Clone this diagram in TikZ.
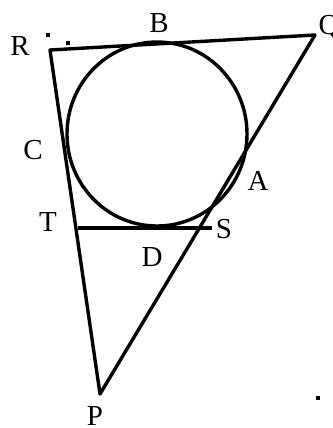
\documentclass[tikz,border=0pt]{standalone}
\usepackage{fontspec}
\setmainfont{Liberation Serif}
\usetikzlibrary{positioning}

\begin{document}
\begin{tikzpicture}[
x=1pt,
y=-1pt,
edge/.style={
line width=3.4pt,
line join=round
},
lbl/.style={font=\fontsize{29}{29}\selectfont, inner sep=0pt},
speck/.style={rectangle, fill=black, minimum size=3.5pt, inner sep=0pt}
]
\useasboundingbox (0,0) rectangle (332,428);

\coordinate (R) at (50,50);
\coordinate (Q) at (315,35);
\coordinate (P) at (100,394);
\coordinate (O) at (157,134);
\coordinate (T) at (78,228);
\coordinate (S) at (212,228);

\node[lbl] (labR) at (20,46) {R};
\node[lbl] (labB) at (159,23) {B};
\node[lbl] (labQ) at (329,27) {Q};
\node[lbl] (labC) at (33,150) {C};
\node[lbl] (labA) at (258,181) {A};
\node[lbl] (labT) at (48,222) {T};
\node[lbl] (labS) at (224,229) {S};
\node[lbl] (labD) at (152,257) {D};
\node[lbl] (labP) at (95,416) {P};

\node[speck] (dot1) at (48,35) {};
\node[speck] (dot2) at (68,43) {};
\node[speck] (dot3) at (318,398) {};

\draw[edge] (R) -- (Q) -- (P) -- cycle;
\draw[edge] (O) ellipse[x radius=90, y radius=92];
\draw[edge] (T) -- (S);

\end{tikzpicture}
\end{document}
